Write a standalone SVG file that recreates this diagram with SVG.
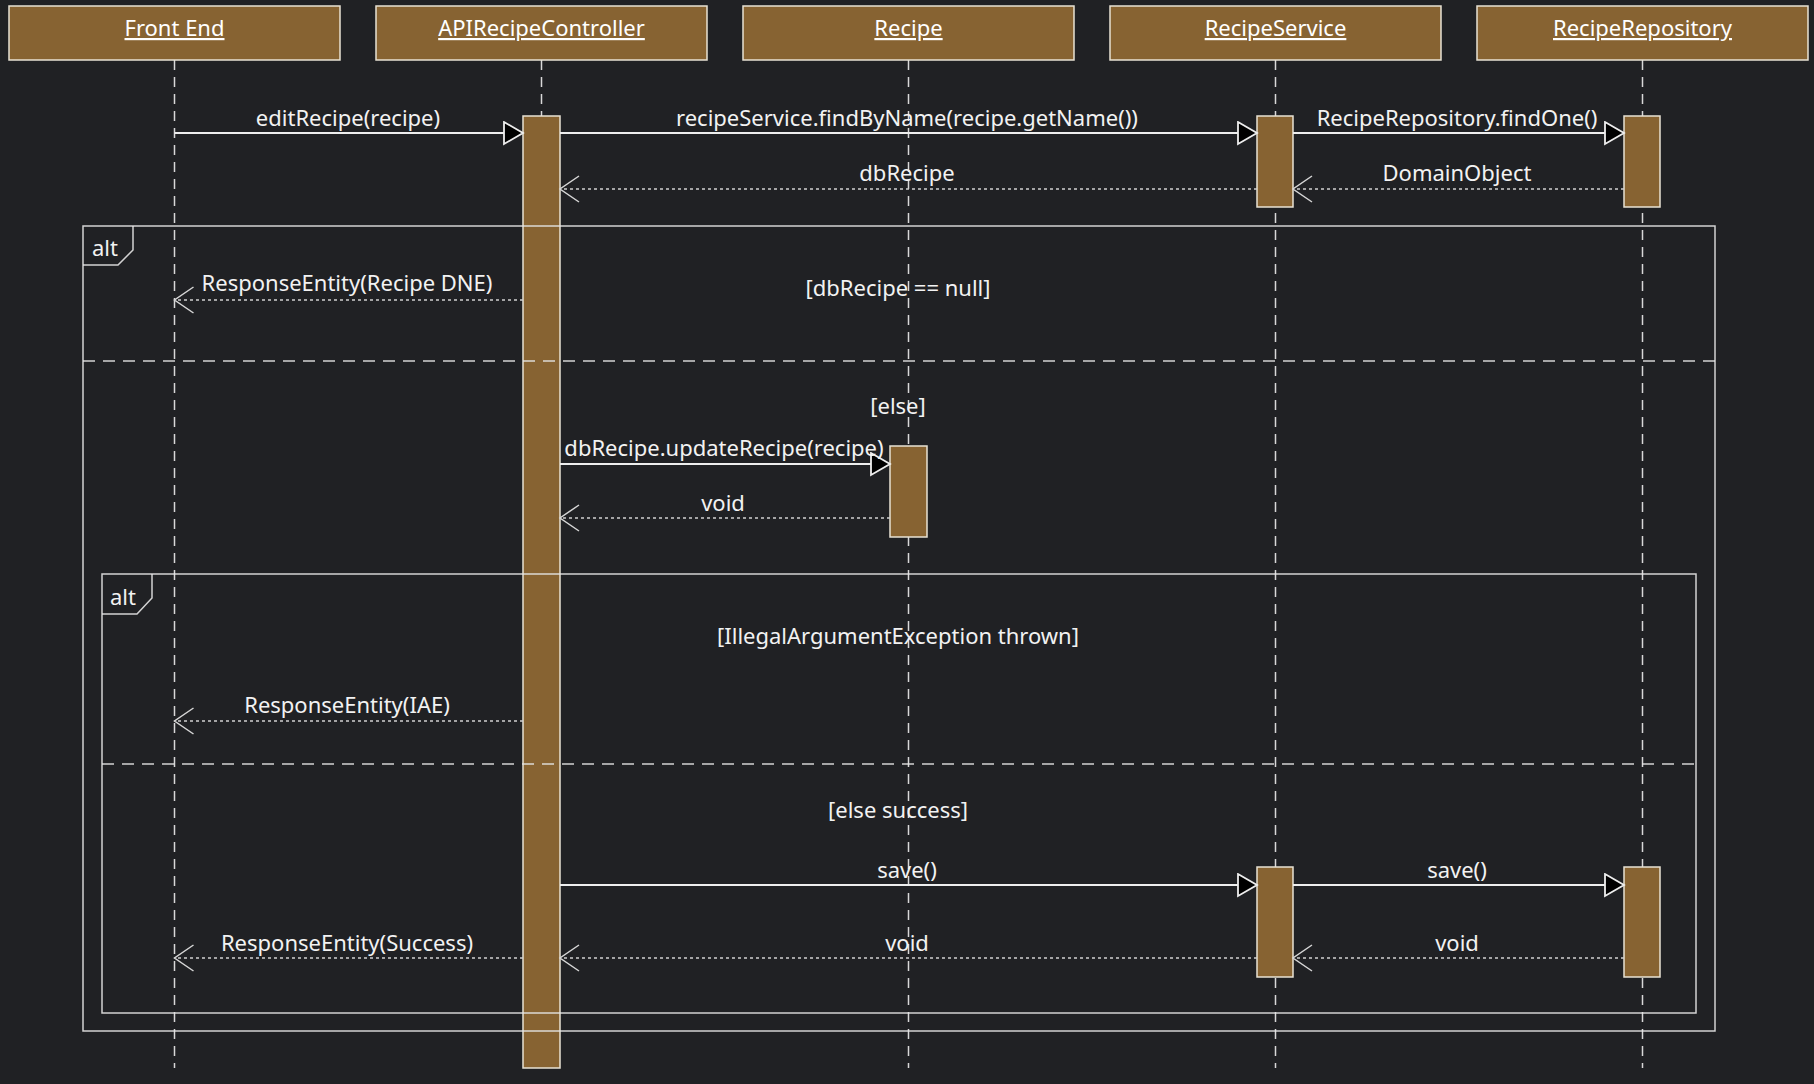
<svg xmlns="http://www.w3.org/2000/svg" width="1814" height="1084" viewBox="0 0 1814 1084">
  <defs>
    <style>
      .bg { fill: #202124; }
      .head { fill: #876332; stroke: #e8e2d4; stroke-width: 1.5; }
      .head-text { font-family: "Noto Sans", "Open Sans", sans-serif; font-size: 22px; fill: #ffffff; text-anchor: middle; text-decoration: underline; }
      .life { stroke: #d8d8d8; stroke-width: 1.5; stroke-dasharray: 10 7; fill: none; }
      .act { fill: #876332; stroke: #e8e2d4; stroke-width: 1.5; }
      .call { stroke: #eeeeee; stroke-width: 2; fill: none; }
      .ret { stroke: #cfcfcf; stroke-width: 1.5; stroke-dasharray: 3 3; fill: none; }
      .frame { fill: none; stroke: #e6e6e6; stroke-width: 1.5; stroke-opacity: 0.9; }
      .sep { stroke: #e6e6e6; stroke-width: 1.5; stroke-dasharray: 12 8; stroke-opacity: 0.9; }
      .lbl { font-family: "Noto Sans", "Open Sans", sans-serif; font-size: 22px; fill: #f2f2f2; text-anchor: middle; }
      .tag { font-family: "Noto Sans", "Open Sans", sans-serif; font-size: 22px; fill: #f2f2f2; }
    </style>
    <!-- filled triangle head for synchronous calls -->
    <marker id="sync" markerWidth="22" markerHeight="26" refX="20" refY="12" orient="auto" markerUnits="userSpaceOnUse">
      <path d="M1,1 L20,12 L1,23 Z" fill="#000000" stroke="#eeeeee" stroke-width="1.8"/>
    </marker>
    <!-- open chevron head for replies -->
    <marker id="open" markerWidth="22" markerHeight="30" refX="20" refY="14" orient="auto" markerUnits="userSpaceOnUse">
      <path d="M1,1 L20,14 L1,27" fill="none" stroke="#d6d6d6" stroke-width="1.5"/>
    </marker>
  </defs>

  <rect class="bg" x="0" y="0" width="1814" height="1084"/>

  <!-- participants with their lifelines -->
  <g id="front-end">
    <line class="life" x1="174.5" y1="60" x2="174.5" y2="1068"/>
    <rect class="head" x="9" y="6" width="331" height="54"/>
    <text class="head-text" x="174.5" y="36">Front End</text>
  </g>
  <g id="api-recipe-controller">
    <line class="life" x1="541.5" y1="60" x2="541.5" y2="1068"/>
    <rect class="head" x="376" y="6" width="331" height="54"/>
    <text class="head-text" x="541.5" y="36">APIRecipeController</text>
  </g>
  <g id="recipe">
    <line class="life" x1="908.5" y1="60" x2="908.5" y2="1068"/>
    <rect class="head" x="743" y="6" width="331" height="54"/>
    <text class="head-text" x="908.5" y="36">Recipe</text>
  </g>
  <g id="recipe-service">
    <line class="life" x1="1275.5" y1="60" x2="1275.5" y2="1068"/>
    <rect class="head" x="1110" y="6" width="331" height="54"/>
    <text class="head-text" x="1275.5" y="36">RecipeService</text>
  </g>
  <g id="recipe-repository">
    <line class="life" x1="1642.5" y1="60" x2="1642.5" y2="1068"/>
    <rect class="head" x="1477" y="6" width="331" height="54"/>
    <text class="head-text" x="1642.5" y="36">RecipeRepository</text>
  </g>

  <!-- activation bars -->
  <g id="activations">
    <rect class="act" x="523" y="116" width="37" height="952"/>
    <rect class="act" x="1257" y="116" width="36" height="91"/>
    <rect class="act" x="1624" y="116" width="36" height="91"/>
    <rect class="act" x="890" y="446" width="37" height="91"/>
    <rect class="act" x="1257" y="867" width="36" height="110"/>
    <rect class="act" x="1624" y="867" width="36" height="110"/>
  </g>

  <!-- combined fragments -->
  <g id="alt-outer">
    <rect class="frame" x="83" y="226" width="1632" height="805"/>
    <path class="frame" d="M83,265 L118,265 L133,250 L133,226"/>
    <text class="tag" x="92" y="256">alt</text>
    <text class="lbl" x="898" y="296">[dbRecipe == null]</text>
    <line class="sep" x1="83" y1="361" x2="1715" y2="361"/>
    <text class="lbl" x="898" y="414">[else]</text>
  </g>
  <g id="alt-inner">
    <rect class="frame" x="102" y="574" width="1594" height="439"/>
    <path class="frame" d="M102,614 L137,614 L152,598 L152,574"/>
    <text class="tag" x="110" y="605">alt</text>
    <text class="lbl" x="898" y="644">[IllegalArgumentException thrown]</text>
    <line class="sep" x1="102" y1="764" x2="1696" y2="764"/>
    <text class="lbl" x="898" y="818">[else success]</text>
  </g>

  <!-- messages -->
  <g id="connectors">
    <line class="call" x1="174.5" y1="133" x2="523" y2="133" marker-end="url(#sync)"/>
    <text class="lbl" x="348" y="126">editRecipe(recipe)</text>

    <line class="call" x1="560" y1="133" x2="1257" y2="133" marker-end="url(#sync)"/>
    <text class="lbl" x="907" y="126">recipeService.findByName(recipe.getName())</text>

    <line class="call" x1="1293" y1="133" x2="1624" y2="133" marker-end="url(#sync)"/>
    <text class="lbl" x="1457" y="126">RecipeRepository.findOne()</text>

    <line class="ret" x1="1624" y1="189" x2="1293" y2="189" marker-end="url(#open)"/>
    <text class="lbl" x="1457" y="181">DomainObject</text>

    <line class="ret" x1="1257" y1="189" x2="560" y2="189" marker-end="url(#open)"/>
    <text class="lbl" x="907" y="181">dbRecipe</text>

    <line class="ret" x1="523" y1="300" x2="174.5" y2="300" marker-end="url(#open)"/>
    <text class="lbl" x="347" y="291">ResponseEntity(Recipe DNE)</text>

    <line class="call" x1="560" y1="464" x2="890" y2="464" marker-end="url(#sync)"/>
    <text class="lbl" x="724" y="456">dbRecipe.updateRecipe(recipe)</text>

    <line class="ret" x1="890" y1="518" x2="560" y2="518" marker-end="url(#open)"/>
    <text class="lbl" x="723" y="511">void</text>

    <line class="ret" x1="523" y1="721" x2="174.5" y2="721" marker-end="url(#open)"/>
    <text class="lbl" x="347" y="713">ResponseEntity(IAE)</text>

    <line class="call" x1="560" y1="885" x2="1257" y2="885" marker-end="url(#sync)"/>
    <text class="lbl" x="907" y="878">save()</text>

    <line class="call" x1="1293" y1="885" x2="1624" y2="885" marker-end="url(#sync)"/>
    <text class="lbl" x="1457" y="878">save()</text>

    <line class="ret" x1="1624" y1="958" x2="1293" y2="958" marker-end="url(#open)"/>
    <text class="lbl" x="1457" y="951">void</text>

    <line class="ret" x1="1257" y1="958" x2="560" y2="958" marker-end="url(#open)"/>
    <text class="lbl" x="907" y="951">void</text>

    <line class="ret" x1="523" y1="958" x2="174.5" y2="958" marker-end="url(#open)"/>
    <text class="lbl" x="347" y="951">ResponseEntity(Success)</text>
  </g>
</svg>
